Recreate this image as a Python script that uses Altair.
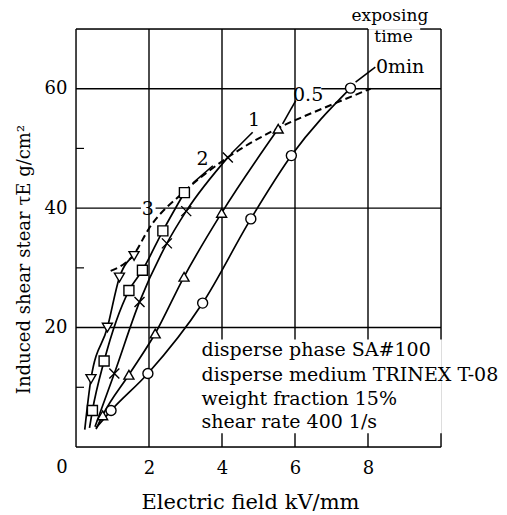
import altair as alt
import pandas as pd

FONT = "DejaVu Serif"

# ---- data ----
series = ["0min", "0.5min", "1min", "2min", "3min"]
shapes = ["circle", "triangle-up", "M-1,-1L1,1M-1,1L1,-1", "square", "triangle-down"]

mark_x = {
    "0min":   [0.96, 1.97, 3.47, 4.79, 5.90, 7.52],
    "0.5min": [0.73, 1.45, 2.17, 2.96, 3.99, 5.54],
    "1min":   [1.05, 1.74, 2.49, 3.02, 4.16],
    "2min":   [0.45, 0.77, 1.45, 1.82, 2.38, 2.97],
    "3min":   [0.41, 0.86, 1.19, 1.59],
}
mark_y = {
    "0min":   [6.1, 12.3, 24.1, 38.2, 48.8, 60.1],
    "0.5min": [5.3, 12.1, 19.0, 28.5, 39.2, 53.3],
    "1min":   [12.3, 24.3, 34.1, 39.5, 48.5],
    "2min":   [6.1, 14.4, 26.2, 29.6, 36.2, 42.6],
    "3min":   [11.4, 20.0, 28.4, 32.0],
}
# lower starting point of each drawn curve
start_x = {"0min": 0.55, "0.5min": 0.55, "1min": 0.52, "2min": 0.37, "3min": 0.24}
start_y = {"0min": 3.2, "0.5min": 3.0, "1min": 3.4, "2min": 3.2, "3min": 2.9}

# dashed envelope through the curve ends
env_x = [0.95, 1.59, 2.0, 2.97, 4.16, 5.54, 6.84, 8.07]
env_y = [29.5, 32.3, 36.6, 42.8, 48.5, 53.4, 56.9, 60.0]

# curve labels and their leader lines
lab_text = ["0min", "0.5", "1", "2", "3"]
lab_x = [8.88, 6.36, 4.88, 3.47, 1.97]
lab_y = [63.6, 59.0, 54.7, 48.2, 39.9]
lead_x = [7.66, 6.02, 4.84, 3.75]
lead_y = [61.1, 58.0, 52.7, 47.1]
lead_x2 = [8.20, 5.66, 4.25, 3.20]
lead_y2 = [63.6, 54.1, 49.1, 44.2]

note_lines = ["disperse phase SA#100", "disperse medium TRINEX T-08",
              "weight fraction 15%", "shear rate 400 1/s"]
note_y = [16.2, 12.0, 8.1, 4.2]
note_x = 3.44

x_ticks = [2, 4, 6, 8]
y_ticks = [20, 40, 60]
y_minor = [10, 30, 50]

# frame / grid segments (x, y, x2, y2)
seg_x = [0, 0, 10, 10, 0, 9.43, 2, 4, 6, 8, 4, 6, 8, 0, 0, 2.18, 0, 6.72]
seg_y = [0, 0, 70, 0, 70, 70, 0, 70, 70, 70, 0, 0, 0, 20, 40, 40, 60, 60]
seg_x2 = [10, 0, 10, 10, 8.0, 10, 2, 4, 6, 8, 4, 6, 8, 10, 1.78, 10, 6.0, 10]
seg_y2 = [0, 70, 18.0, 2.3, 70, 70, 70, 18.0, 18.0, 18.0, 2.3, 2.3, 2.3, 20, 40, 40, 60, 60]

# ---- tables ----
curve_rows, mark_rows = [], []
for s, shp in zip(series, shapes):
    xs_ = [start_x[s]] + mark_x[s]
    ys_ = [start_y[s]] + mark_y[s]
    for i, (a, b) in enumerate(zip(xs_, ys_)):
        curve_rows.append({"s": s, "i": i, "x": a, "y": b})
    for a, b in zip(mark_x[s], mark_y[s]):
        mark_rows.append({"s": s, "shape": shp, "x": a, "y": b})
curves = pd.DataFrame(curve_rows)
marks = pd.DataFrame(mark_rows)
env = pd.DataFrame({"x": env_x, "y": env_y, "i": range(len(env_x))})
labels = pd.DataFrame({"t": lab_text, "x": lab_x, "y": lab_y})

lead_rows = []
for k in range(len(lead_x)):
    lead_rows.append({"k": k, "i": 0, "x": lead_x[k], "y": lead_y[k]})
    lead_rows.append({"k": k, "i": 1, "x": lead_x2[k], "y": lead_y2[k]})
leads = pd.DataFrame(lead_rows)

seg_rows = []
for k in range(len(seg_x)):
    seg_rows.append({"k": k, "i": 0, "x": seg_x[k], "y": seg_y[k]})
    seg_rows.append({"k": k, "i": 1, "x": seg_x2[k], "y": seg_y2[k]})
segs = pd.DataFrame(seg_rows)

notes = pd.DataFrame({"t": note_lines, "y": note_y, "x": [note_x] * 4})
minor = pd.DataFrame({"y": y_minor})

xs = alt.Scale(domain=[0, 10], nice=False)
ys = alt.Scale(domain=[0, 70], nice=False)

X = alt.X("x:Q", scale=xs, axis=alt.Axis(
    values=x_ticks, grid=False, domain=False, ticks=False, labelFont=FONT,
    labelFontSize=18, labelColor="black", labelPadding=12,
    title="Electric field kV/mm", titleFont=FONT, titleFontSize=21,
    titleFontWeight="normal", titleColor="black", titleX=174, titleY=55,
    titleBaseline="middle"))
Y = alt.Y("y:Q", scale=ys, axis=alt.Axis(
    values=y_ticks, grid=False, domain=False, ticks=False, labelFont=FONT,
    labelFontSize=18, labelColor="black", labelPadding=9,
    title="Induced shear stear τE g/cm²", titleFont=FONT, titleFontSize=18,
    titleFontWeight="normal", titleColor="black", titleX=-52, titleY=230,
    titleBaseline="middle"))

frame = alt.Chart(segs).mark_line(color="black", strokeWidth=1.4).encode(
    x=X, y=Y, detail="k:N", order="i:Q")
minor_ticks = alt.Chart(minor).mark_rule(color="black", strokeWidth=1.2).encode(
    y="y:Q", x=alt.value(0), x2=alt.value(8))

lines = alt.Chart(curves).mark_line(
    interpolate="monotone", color="black", strokeWidth=1.7).encode(
    x="x:Q", y="y:Q", detail="s:N", order="i:Q")
envelope = alt.Chart(env).mark_line(
    interpolate="monotone", color="black", strokeWidth=2, strokeDash=[7, 4]).encode(
    x="x:Q", y="y:Q", order="i:Q")
leaders = alt.Chart(leads).mark_line(color="black", strokeWidth=1.6).encode(
    x="x:Q", y="y:Q", detail="k:N", order="i:Q")

points = alt.Chart(marks).mark_point(
    filled=False, fill="white", fillOpacity=1, color="black",
    strokeWidth=1.4, size=100, opacity=1).encode(
    x="x:Q", y="y:Q",
    shape=alt.Shape("shape:N", scale=None, legend=None))

lab = alt.Chart(labels).mark_text(
    font=FONT, fontSize=19, color="black").encode(x="x:Q", y="y:Q", text="t:N")
note = alt.Chart(notes).mark_text(
    font=FONT, fontSize=19, color="black", align="left").encode(
    x="x:Q", y="y:Q", text="t:N")

top_txt = pd.DataFrame({"t": ["exposing", "time"], "x": [8.6, 8.7], "y": [72.2, 68.7]})
extra = alt.Chart(top_txt).mark_text(
    font=FONT, fontSize=17, color="black").encode(x="x:Q", y="y:Q", text="t:N")

origin = pd.DataFrame({"t": ["0"], "x": [0], "y": [0]})
zero = alt.Chart(origin).mark_text(
    font=FONT, fontSize=18, color="black", dx=-14, dy=21).encode(
    x="x:Q", y="y:Q", text="t:N")

chart = alt.layer(frame, minor_ticks, lines, envelope, leaders, points, lab,
                  note, extra, zero).properties(
    width=365, height=418,
    autosize=alt.AutoSizeParams(type="none"),
    padding={"left": 76, "top": 29, "right": 66, "bottom": 68},
).configure_view(stroke=None).configure(background="white")

chart.save("out.html", embed_options={"renderer": "svg", "actions": False})
